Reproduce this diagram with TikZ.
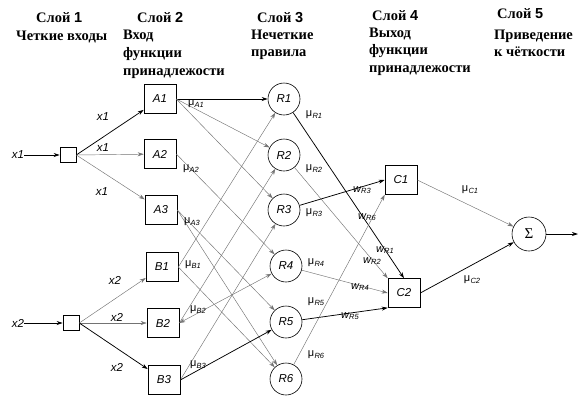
\documentclass[tikz,border=0pt]{standalone}
\usepackage{fontspec}
\setmainfont{Liberation Serif}
\newfontfamily\lsans{Liberation Sans}
\newfontfamily\lserif{Liberation Serif}
\usetikzlibrary{arrows.meta}
\newcommand\mulab[1]{μ\kern0.3pt\raisebox{-1.5pt}{\fontsize{7.5}{8}\selectfont\itshape #1}}
\newcommand\wlab[1]{{\itshape w}\raisebox{-1.5pt}{\fontsize{7.5}{8}\selectfont\itshape #1}}
\newcommand\hnum[1]{{\lsans\bfseries #1}}
\begin{document}
\begin{tikzpicture}[x=1pt,y=-1pt,
  hdr/.style={font=\lserif\bfseries\fontsize{14.5}{16}\selectfont, anchor=base west, inner sep=0},
  boxn/.style={draw, line width=0.6pt, minimum width=32pt, minimum height=29pt, inner sep=0, font=\lsans\itshape\fontsize{11.5}{12}\selectfont},
  circn/.style={draw, circle, line width=0.6pt, minimum size=32pt, inner sep=0, font=\lsans\itshape\fontsize{11.5}{12}\selectfont},
  inbox/.style={draw, line width=0.6pt, minimum width=16pt, minimum height=15pt, inner sep=0},
  lbl/.style={font=\lsans\itshape\fontsize{11.5}{12}\selectfont, inner sep=0},
  mul/.style={font=\lsans\fontsize{11}{12}\selectfont, inner sep=0},
  dk/.style={draw=black, line width=0.75pt, -{Stealth[length=6pt,width=4pt]}},
  gr/.style={draw=black!55, line width=0.45pt, -{Stealth[length=6pt,width=4pt]}}
]
\useasboundingbox (0,0) rectangle (587,397);

% headers
\node[hdr] (h1a) at (36,22) {Слой \hnum{1}};
\node[hdr] (h1b) at (16,40) {Четкие входы};
\node[hdr] (h2a) at (137,22) {Слой \hnum{2}};
\node[hdr] (h2b) at (123,39) {Вход};
\node[hdr] (h2c) at (123,57) {функции};
\node[hdr] (h2d) at (123,75) {принадлежости};
\node[hdr] (h3a) at (257,22) {Слой \hnum{3}};
\node[hdr] (h3b) at (251,39) {Нечеткие};
\node[hdr] (h3c) at (251,56) {правила};
\node[hdr] (h4a) at (372,20) {Слой \hnum{4}};
\node[hdr] (h4b) at (369,37) {Выход};
\node[hdr] (h4c) at (369,54) {функции};
\node[hdr] (h4d) at (369,72) {принадлежости};
\node[hdr] (h5a) at (497,18) {Слой \hnum{5}};
\node[hdr] (h5b) at (494,39) {Приведение};
\node[hdr] (h5c) at (494,56) {к чёткости};

% inputs
\node[lbl] (x1) at (18,155) {x1};
\node[lbl] (x2) at (18,323) {x2};
\node[inbox] (s1) at (68,155) {};
\node[inbox] (s2) at (71,323) {};

% layer 2
\node[boxn] (A1) at (160,99) {A1};
\node[boxn] (A2) at (160,154) {A2};
\node[boxn] (A3) at (161,210) {A3};
\node[boxn] (B1) at (162,267) {B1};
\node[boxn] (B2) at (163,323) {B2};
\node[boxn] (B3) at (164,380) {B3};

% layer 3
\node[circn] (R1) at (284,99) {R1};
\node[circn] (R2) at (284,155) {R2};
\node[circn] (R3) at (284,210) {R3};
\node[circn] (R4) at (286,266) {R4};
\node[circn] (R5) at (286,322) {R5};
\node[circn] (R6) at (286,379) {R6};

% layer 4
\node[boxn] (C1) at (401,180) {C1};
\node[boxn] (C2) at (404,293) {C2};

% layer 5
\node[circn, minimum size=34pt, font=\lserif\fontsize{15}{15}\selectfont] (S) at (529,234) {Σ};
\coordinate (out) at (578,234);

% input edges
\draw[dk] (x1) -- (s1);
\draw[dk] (x2) -- (s2);
\draw[dk] (s1.east) -- (A1);
\draw[gr] (s1.east) -- (A2);
\draw[gr] (s1.east) -- (A3);
\draw[gr] (s2.east) -- (B1);
\draw[gr] (s2.east) -- (B2);
\draw[dk] (s2.east) -- (B3);
\node[lbl] (ex1a) at (103,117) {x1};
\node[lbl] (ex1b) at (103,148) {x1};
\node[lbl] (ex1c) at (102,192) {x1};
\node[lbl] (ex2a) at (115,280) {x2};
\node[lbl] (ex2b) at (117,317) {x2};
\node[lbl] (ex2c) at (117,367) {x2};

% layer 2 -> 3
\draw[dk] (A1.east) -- (R1);
\draw[gr] (A1.east) -- (R2);
\draw[gr] (A1.east) -- (R3);
\draw[gr] (A2.east) -- (R4);
\draw[gr] (A3.east) -- (R5);
\draw[gr] (A3.east) -- (R6);
\draw[gr] (B1.east) -- (R1);
\draw[gr] (B1.east) -- (R6);
\draw[gr] (B2.east) -- (R2);
\draw[gr, {Stealth[length=6pt,width=4pt]}-{Stealth[length=6pt,width=4pt]}] (B2.east) -- (R4);
\draw[gr] (B3.east) -- (R3);
\draw[dk] (B3.east) -- (R5);

\node[mul] (mA1) at (196,104) {\mulab{A1}};
\node[mul] (mA2) at (191,169) {\mulab{A2}};
\node[mul] (mA3) at (192,222) {\mulab{A3}};
\node[mul] (mB1) at (193,265) {\mulab{B1}};
\node[mul] (mB2) at (198,310) {\mulab{B2}};
\node[mul] (mB3) at (198,365) {\mulab{B3}};

% layer 3 -> 4
\draw[dk] (R1) -- (C2.north);
\draw[gr] (R2) -- (C2.north west);
\draw[dk] (R3) -- (C1.west);
\draw[gr] (R4) -- (C2.west);
\draw[dk] (R5) -- (C2.south west);
\draw[gr] (R6) -- (C1.south west);

\node[mul] (mR1) at (314,115) {\mulab{R1}};
\node[mul] (mR2) at (314,169) {\mulab{R2}};
\node[mul] (mR3) at (314,213) {\mulab{R3}};
\node[mul] (mR4) at (316,263) {\mulab{R4}};
\node[mul] (mR5) at (316,302) {\mulab{R5}};
\node[mul] (mR6) at (316,355) {\mulab{R6}};

\node[mul] (wR3) at (362,190) {\wlab{R3}};
\node[mul] (wR6) at (367,217) {\wlab{R6}};
\node[mul] (wR1) at (385,250) {\wlab{R1}};
\node[mul] (wR2) at (372,261) {\wlab{R2}};
\node[mul] (wR4) at (360,287) {\wlab{R4}};
\node[mul] (wR5) at (350,316) {\wlab{R5}};

% layer 4 -> 5
\draw[gr] (C1.east) -- (S);
\draw[dk] (C2.east) -- (S);
\draw[dk] (S) -- (out);
\node[mul] (mC1) at (470,190) {\mulab{C1}};
\node[mul] (mC2) at (472,280) {\mulab{C2}};
\end{tikzpicture}
\end{document}
